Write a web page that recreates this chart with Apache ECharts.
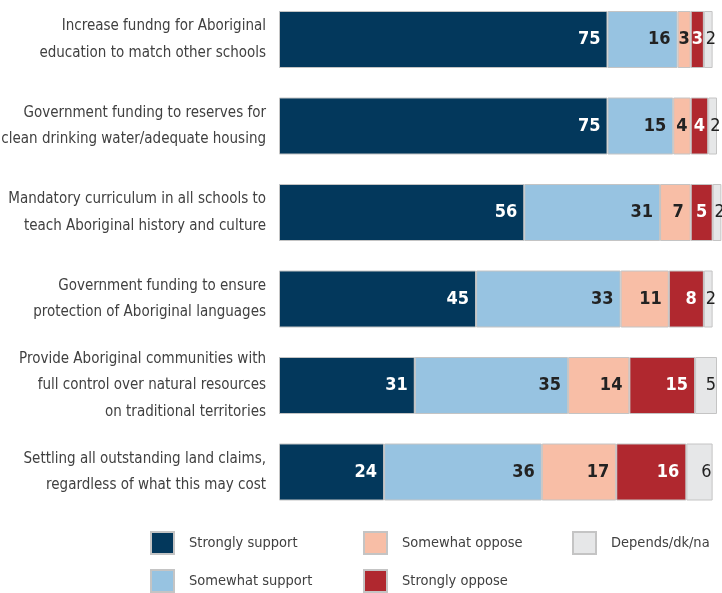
<!DOCTYPE html>
<html>
<head>
<meta charset="utf-8">
<script src="https://cdn.jsdelivr.net/npm/echarts@6/dist/echarts.min.js"></script>
<style>
  html, body { margin: 0; padding: 0; background: #fff; }
  #chart { width: 722px; height: 593px; }
</style>
</head>
<body>
<div id="chart"></div>
<script>
const categories = [
  'Increase fundng for Aboriginal\neducation to match other schools',
  'Government funding to reserves for\nclean drinking water/adequate housing',
  'Mandatory curriculum in all schools to\nteach Aboriginal history and culture',
  'Government funding to ensure\nprotection of Aboriginal languages',
  'Provide Aboriginal communities with\nfull control over natural resources\non traditional territories',
  'Settling all outstanding land claims,\nregardless of what this may cost'
];
const stronglySupport = [75, 75, 56, 45, 31, 24];
const somewhatSupport = [16, 15, 31, 33, 35, 36];
const somewhatOppose = [3, 4, 7, 11, 14, 17];
const stronglyOppose = [3, 4, 5, 8, 15, 16];
const dependsDkNa = [2, 2, 2, 2, 5, 6];

const FONT = '"Liberation Sans Narrow", "DejaVu Sans Condensed", sans-serif';
const BORDER = '#c4c4c4';

// small segments get a centred label
function segData(values) {
  return values.map(v => ({
    value: v,
    label: v <= 5 ? { position: 'inside' } : {}
  }));
}

function makeSeries(name, values, color, textColor) {
  return {
    name: name,
    type: 'bar',
    stack: 'total',
    barWidth: 57,
    clip: false,
    data: segData(values),
    itemStyle: { color: color, borderColor: BORDER, borderWidth: 1 },
    label: {
      show: true,
      position: 'insideRight',
      distance: 7,
      color: textColor,
      fontFamily: FONT,
      fontWeight: 'bold',
      fontSize: 18
    },
    emphasis: { disabled: true }
  };
}

const series = [
  makeSeries('Strongly support', stronglySupport, '#03385c', '#ffffff'),
  makeSeries('Somewhat support', somewhatSupport, '#97c3e1', '#222222'),
  makeSeries('Somewhat oppose', somewhatOppose, '#f8bea6', '#222222'),
  makeSeries('Strongly oppose', stronglyOppose, '#b0282f', '#ffffff'),
  {
    name: 'Depends/dk/na',
    type: 'bar',
    stack: 'total',
    barWidth: 57,
    clip: false,
    data: dependsDkNa.map(v => ({
      value: v,
      label: v <= 2 ? { position: 'insideLeft', distance: 2 } : {}
    })),
    itemStyle: { color: '#e6e7e8', borderColor: BORDER, borderWidth: 1 },
    label: {
      show: true,
      position: 'insideRight',
      distance: 1,
      color: '#222222',
      fontFamily: FONT,
      fontWeight: 'normal',
      fontSize: 18
    },
    emphasis: { disabled: true }
  }
];

const legendBase = {
  orient: 'vertical',
  icon: 'rect',
  itemWidth: 23,
  itemHeight: 22,
  itemGap: 14,
  height: 120,
  padding: 0,
  selectedMode: false,
  textStyle: {
    fontFamily: FONT,
    fontSize: 14.5,
    lineHeight: 22,
    color: '#404040',
    padding: [0, 0, 0, 10]
  }
};

const chart = echarts.init(document.getElementById('chart'));
chart.setOption({
  animation: false,
  legend: [
    Object.assign({}, legendBase, { data: ['Strongly support', 'Somewhat support'], left: 150, top: 531 }),
    Object.assign({}, legendBase, { data: ['Somewhat oppose', 'Strongly oppose'], left: 363, top: 531 }),
    Object.assign({}, legendBase, { data: ['Depends/dk/na'], left: 572, top: 531 })
  ],
  grid: {
    left: 279,
    width: 438,
    top: -3.75,
    height: 519,
    containLabel: false,
    outerBoundsMode: 'none'
  },
  xAxis: {
    type: 'value',
    min: 0,
    max: 100,
    show: false
  },
  yAxis: {
    type: 'category',
    inverse: true,
    data: categories,
    axisLine: { show: false },
    axisTick: { show: false },
    axisLabel: {
      margin: 13,
      fontFamily: FONT,
      fontSize: 15,
      lineHeight: 26.5,
      color: '#404040'
    }
  },
  series: series
});
</script>
</body>
</html>
